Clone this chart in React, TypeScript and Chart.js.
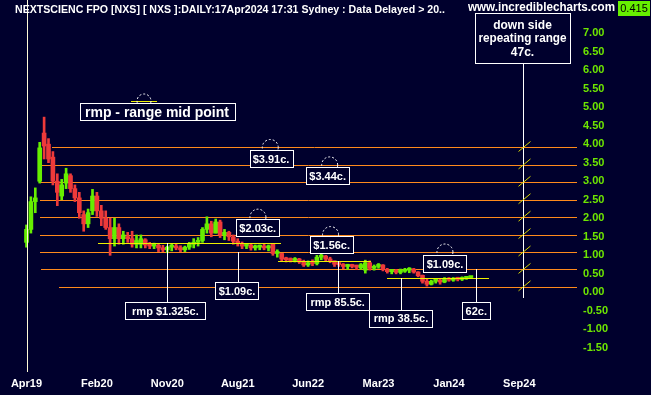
import React, { useEffect, useRef } from 'react';
import { Chart, registerables } from 'chart.js';

Chart.register(...registerables);

// ---------- data ----------
const X_LABELS = ['Apr19', 'Feb20', 'Nov20', 'Aug21', 'Jun22', 'Mar23', 'Jan24', 'Sep24'];
const X_LABEL_STEP = 16; // bars between axis labels
const Y_TICKS = [-1.5, -1, -0.5, 0, 0.5, 1, 1.5, 2, 2.5, 3, 3.5, 4, 4.5, 5, 5.5, 6, 6.5, 7];

const OPEN = [
  1.35, 1.70, 2.45, 3.00, 4.30, 4.00, 3.65, 3.00, 2.60, 2.95, 3.15, 2.80, 2.55, 2.10, 1.85, 2.20, 2.60, 2.20, 2.00, 1.75,
  1.45, 1.75, 1.45, 1.50, 1.45, 1.30, 1.30, 1.42, 1.28, 1.25, 1.27, 1.20, 1.15, 1.22, 1.25, 1.20, 1.15, 1.22, 1.30, 1.35,
  1.40, 1.70, 1.85, 1.60, 1.90, 1.55, 1.62, 1.50, 1.38, 1.32, 1.25, 1.28, 1.20, 1.22, 1.25, 1.20, 1.30, 1.05, 1.05, 0.90,
  0.88, 0.86, 0.90, 0.82, 0.74, 0.80, 0.78, 0.95, 0.98, 0.90, 0.85, 0.76, 0.75, 0.70, 0.72, 0.70, 0.66, 0.60, 0.80, 0.65,
  0.70, 0.74, 0.62, 0.56, 0.58, 0.54, 0.57, 0.60, 0.63, 0.55, 0.46, 0.30, 0.22, 0.30, 0.32, 0.28, 0.36, 0.33, 0.37, 0.35,
  0.38, 0.40,
];
const HIGH = [
  1.82, 2.58, 2.82, 4.05, 4.73, 4.15, 3.80, 3.20, 3.05, 3.35, 3.20, 2.90, 2.70, 2.20, 2.25, 2.78, 2.70, 2.35, 2.20, 2.00,
  2.00, 1.85, 1.65, 1.62, 1.65, 1.55, 1.55, 1.45, 1.35, 1.33, 1.30, 1.27, 1.25, 1.30, 1.30, 1.26, 1.25, 1.35, 1.45, 1.48,
  1.75, 2.04, 1.92, 1.98, 1.95, 1.70, 1.65, 1.55, 1.45, 1.36, 1.32, 1.32, 1.28, 1.28, 1.30, 1.28, 1.32, 1.15, 1.05, 0.95,
  0.93, 0.94, 0.92, 0.87, 0.85, 0.88, 1.00, 1.07, 1.00, 0.95, 0.85, 0.80, 0.78, 0.76, 0.76, 0.74, 0.78, 0.87, 0.85, 0.74,
  0.78, 0.75, 0.65, 0.62, 0.62, 0.63, 0.65, 0.67, 0.65, 0.56, 0.47, 0.36, 0.33, 0.38, 0.38, 0.40, 0.40, 0.40, 0.41, 0.42,
  0.43, 0.43,
];
const LOW = [
  1.22, 1.60, 2.15, 2.95, 3.60, 3.50, 2.90, 2.34, 2.50, 2.80, 2.70, 2.45, 2.00, 1.65, 1.75, 2.10, 2.05, 1.80, 1.70, 1.00,
  1.25, 1.30, 1.30, 1.35, 1.22, 1.20, 1.20, 1.20, 1.18, 1.18, 1.10, 1.10, 1.07, 1.12, 1.15, 1.10, 1.10, 1.16, 1.20, 1.25,
  1.35, 1.60, 1.50, 1.60, 1.48, 1.42, 1.40, 1.30, 1.25, 1.18, 1.18, 1.14, 1.14, 1.15, 1.15, 1.12, 1.00, 0.95, 0.85, 0.82,
  0.82, 0.82, 0.78, 0.70, 0.70, 0.72, 0.74, 0.88, 0.85, 0.80, 0.70, 0.70, 0.64, 0.62, 0.66, 0.62, 0.62, 0.52, 0.60, 0.60,
  0.65, 0.58, 0.52, 0.50, 0.50, 0.50, 0.54, 0.53, 0.52, 0.42, 0.25, 0.17, 0.20, 0.25, 0.22, 0.26, 0.30, 0.30, 0.31, 0.32,
  0.35, 0.38,
];
const CLOSE = [
  1.70, 2.45, 2.55, 3.90, 3.95, 3.60, 3.00, 2.70, 2.90, 3.20, 2.80, 2.55, 2.15, 1.85, 2.15, 2.60, 2.20, 2.00, 1.75, 1.45,
  1.75, 1.45, 1.55, 1.45, 1.30, 1.40, 1.45, 1.28, 1.25, 1.27, 1.20, 1.15, 1.22, 1.25, 1.20, 1.15, 1.22, 1.30, 1.35, 1.40,
  1.70, 1.85, 1.60, 1.90, 1.55, 1.62, 1.50, 1.38, 1.32, 1.25, 1.28, 1.20, 1.22, 1.25, 1.20, 1.25, 1.05, 1.10, 0.90, 0.88,
  0.86, 0.90, 0.82, 0.74, 0.80, 0.78, 0.95, 0.98, 0.90, 0.85, 0.76, 0.75, 0.70, 0.72, 0.70, 0.68, 0.75, 0.80, 0.65, 0.70,
  0.75, 0.62, 0.56, 0.58, 0.54, 0.60, 0.62, 0.63, 0.55, 0.45, 0.30, 0.22, 0.30, 0.32, 0.28, 0.36, 0.33, 0.37, 0.35, 0.38,
  0.40, 0.415,
];

const LEVELS = [3.91, 3.44, 2.97, 2.5, 2.03, 1.56, 1.09, 0.62, 0.15];
const RMP = [1.325, 0.855, 0.385];
const RANGE_STEP = 0.47;
const LAST_PRICE = 0.415;

// ---------- view / annotation layout (data units) ----------
const X_MIN = -6.023;
const X_MAX = 125.34;
const Y_MIN = -2.148;
const Y_MAX = 7.89;

const LEVEL_FROM = [5.8, 3.07, 3.07, 3.07, 3.07, 3.07, 3.07, 3.3, 7.39];
const LEVEL_TO = 125.1;
const RMP_FROM = [16.3, 57.2, 81.9];
const RMP_TO = [57.8, 78.3, 105.1];
const RANGE_X = 112.9;
const RANGE_BOTTOM = -0.14;
const ARCS = [
  { x: 55.4, lv: 0 },
  { x: 68.9, lv: 1 },
  { x: 52.6, lv: 4 },
  { x: 69.1, lv: 5 },
  { x: 95.1, lv: 6 },
];

const money = (v: number) => '$' + v.toFixed(2) + 'c.';
const cents = (v: number, d: number) => (v * 100).toFixed(d) + 'c.';

const BOXES: any[] = [
  { text: money(LEVELS[0]), x: 55.57, y: 3.608, w: 43, h: 17 },
  { text: money(LEVELS[1]), x: 68.45, y: 3.149, w: 43, h: 17 },
  { text: money(LEVELS[4]), x: 52.55, y: 1.738, w: 43, h: 17 },
  { text: money(LEVELS[5]), x: 69.36, y: 1.287, w: 43, h: 17 },
  { text: money(LEVELS[6]), x: 95.11, y: 0.769, w: 43, h: 17 },
  { text: money(LEVELS[6]), x: 47.84, y: 0.046, w: 43, h: 17, from: LEVELS[6], lx: 48.0 },
  { text: 'rmp $' + RMP[0] + 'c.', x: 31.57, y: -0.497, w: 80, h: 17, from: RMP[0], lx: 31.9 },
  { text: 'rmp ' + cents(RMP[1], 1), x: 70.73, y: -0.259, w: 63, h: 17, from: RMP[1], lx: 70.8 },
  { text: 'rmp ' + cents(RMP[2], 1), x: 85.11, y: -0.691, w: 63, h: 17, from: RMP[2], lx: 85.1 },
  { text: cents(LEVELS[7], 0), x: 102.23, y: -0.488, w: 28, h: 17, from: LEVELS[7], lx: 102.2 },
];

const BG = '#00002d';
const ORANGE = '#ff8a1c';
const YELLOW = '#eef000';
const GREEN = '#66ee00';
const RED = '#ee3a3a';
const TICK_GREEN = '#6ee600';
const FONT = '"Liberation Sans", Arial, Helvetica, sans-serif';

const up = (i: number) => CLOSE[i] >= OPEN[i];

const overlay = {
  id: 'overlay',
  beforeDraw(chart: any) {
    const ctx = chart.ctx;
    ctx.save();
    ctx.fillStyle = BG;
    ctx.fillRect(0, 0, chart.width, chart.height);
    ctx.restore();
  },
  beforeDatasetsDraw(chart: any) {
    const { ctx, scales } = chart;
    const x = scales.x, y = scales.y;
    ctx.save();
    ctx.strokeStyle = ORANGE;
    ctx.lineWidth = 1;
    LEVELS.forEach((v, i) => {
      const py = Math.round(y.getPixelForValue(v)) + 0.5;
      ctx.beginPath();
      ctx.moveTo(Math.round(x.getPixelForValue(LEVEL_FROM[i])), py);
      ctx.lineTo(Math.round(x.getPixelForValue(LEVEL_TO)), py);
      ctx.stroke();
    });
    ctx.restore();
  },
  afterDatasetsDraw(chart: any) {
    const { ctx, scales } = chart;
    const x = scales.x, y = scales.y;
    const X = (v: number) => x.getPixelForValue(v);
    const Y = (v: number) => y.getPixelForValue(v);
    const h = (v: number) => Math.round(v) + 0.5;
    ctx.save();
    ctx.lineWidth = 1;

    // rmp lines
    ctx.strokeStyle = YELLOW;
    RMP.forEach((v, i) => {
      ctx.beginPath();
      ctx.moveTo(Math.round(X(RMP_FROM[i])), h(Y(v)));
      ctx.lineTo(Math.round(X(RMP_TO[i])), h(Y(v)));
      ctx.stroke();
    });

    // connectors
    ctx.strokeStyle = '#ffffff';
    BOXES.forEach((b) => {
      if (b.from === undefined) return;
      const top = Math.round(Y(b.y) - b.h / 2);
      ctx.beginPath();
      ctx.moveTo(h(X(b.lx)), Math.round(Y(b.from)));
      ctx.lineTo(h(X(b.lx)), top);
      ctx.stroke();
    });

    // down side repeating range vertical
    const rx = h(X(RANGE_X));
    const rangeBox = { x: 112.73, y: 6.865, w: 95, h: 50 };
    ctx.beginPath();
    ctx.moveTo(rx, Math.round(Y(rangeBox.y) + rangeBox.h / 2));
    ctx.lineTo(rx, Math.round(Y(RANGE_BOTTOM)));
    ctx.stroke();
    ctx.strokeStyle = '#d8d800';
    LEVELS.forEach((v) => {
      const py = Y(v);
      ctx.beginPath();
      ctx.moveTo(rx - 5, py + 4);
      ctx.lineTo(rx + 7, py - 6);
      ctx.stroke();
    });

    // dashed arcs
    ctx.strokeStyle = '#ffffff';
    ctx.setLineDash([2, 2]);
    ARCS.forEach((a) => {
      ctx.beginPath();
      ctx.arc(X(a.x), Y(LEVELS[a.lv]), 8, 0, Math.PI * 2);
      ctx.stroke();
    });
    ctx.setLineDash([]);

    // boxes
    ctx.textAlign = 'center';
    ctx.textBaseline = 'middle';
    const drawBox = (cx: number, cy: number, w: number, hh: number) => {
      const l = Math.round(cx - w / 2) + 0.5;
      const t = Math.round(cy - hh / 2) + 0.5;
      ctx.fillStyle = BG;
      ctx.fillRect(l, t, w, hh);
      ctx.strokeStyle = '#ffffff';
      ctx.strokeRect(l, t, w, hh);
    };
    BOXES.forEach((b) => {
      const cx = X(b.x), cy = Y(b.y);
      drawBox(cx, cy, b.w, b.h);
      ctx.fillStyle = '#ffffff';
      ctx.font = 'bold 11px ' + FONT;
      ctx.fillText(b.text, cx, cy + 1, b.w - 6);
    });

    // range box
    {
      const cx = X(rangeBox.x), cy = Y(rangeBox.y);
      drawBox(cx, cy, rangeBox.w, rangeBox.h);
      ctx.fillStyle = '#ffffff';
      ctx.font = 'bold 12px ' + FONT;
      ctx.fillText('down side', cx, cy - 12.5);
      ctx.fillText('repeating range', cx, cy + 1, 88);
      ctx.fillText(cents(RANGE_STEP, 0), cx, cy + 14.5);
    }

    // start marker line
    ctx.strokeStyle = '#fffbd6';
    ctx.beginPath();
    ctx.moveTo(h(X(0.15)), 0);
    ctx.lineTo(h(X(0.15)), chart.chartArea.bottom);
    ctx.stroke();

    // legend
    ctx.strokeStyle = YELLOW;
    ctx.beginPath();
    ctx.moveTo(131, 101.5);
    ctx.lineTo(157, 101.5);
    ctx.stroke();
    ctx.strokeStyle = '#ffffff';
    ctx.setLineDash([2, 2]);
    ctx.beginPath();
    ctx.arc(144, 101, 7, 0, Math.PI * 2);
    ctx.stroke();
    ctx.setLineDash([]);
    ctx.fillStyle = BG;
    ctx.fillRect(80.5, 103.5, 155, 17);
    ctx.strokeStyle = '#ffffff';
    ctx.strokeRect(80.5, 103.5, 155, 17);
    ctx.fillStyle = '#ffffff';
    ctx.font = 'bold 14px ' + FONT;
    ctx.textAlign = 'left';
    ctx.fillText('rmp - range mid point', 85, 113, 146);

    // header
    ctx.font = 'bold 11px ' + FONT;
    ctx.textAlign = 'left';
    ctx.fillStyle = '#ffffff';
    ctx.fillText('NEXTSCIENC FPO [NXS] [ NXS ]:DAILY:17Apr2024 17:31 Sydney : Data Delayed > 20..', 15, 9.5, 430);
    ctx.font = 'bold 12px ' + FONT;
    ctx.fillText('www.incrediblecharts.com', 468, 7.5, 147);
    ctx.fillStyle = '#66f000';
    ctx.fillRect(618, 1, 32, 15);
    ctx.fillStyle = '#000000';
    ctx.font = '11px ' + FONT;
    ctx.textAlign = 'center';
    ctx.fillText(LAST_PRICE.toFixed(3), 634, 9);

    ctx.restore();
  },
};

export default function App() {
  const ref = useRef<HTMLCanvasElement | null>(null);
  useEffect(() => {
    if (!ref.current) return;
    const idx = OPEN.map((_, i) => i);
    const chart = new Chart(ref.current, {
      type: 'bar',
      data: {
        datasets: [
          {
            data: idx.map((i) => ({ x: i, y: [LOW[i], HIGH[i]] })) as any,
            backgroundColor: idx.map((i) => (up(i) ? GREEN : RED)),
            barThickness: 2,
            grouped: false,
            order: 2,
          } as any,
          {
            data: idx.map((i) => ({ x: i, y: [Math.min(OPEN[i], CLOSE[i]), Math.max(OPEN[i], CLOSE[i])] })) as any,
            backgroundColor: idx.map((i) => (up(i) ? GREEN : RED)),
            barThickness: 4,
            minBarLength: 2,
            grouped: false,
            order: 1,
          } as any,
        ],
      },
      options: {
        animation: false,
        responsive: false,
        devicePixelRatio: 1,
        layout: { padding: 0 },
        plugins: { legend: { display: false }, tooltip: { enabled: false }, title: { display: false } },
        scales: {
          x: {
            type: 'linear',
            min: X_MIN,
            max: X_MAX,
            offset: false,
            grid: { display: false, drawTicks: false },
            border: { display: false },
            afterBuildTicks: (s: any) => {
              s.ticks = X_LABELS.map((_, i) => ({ value: i * X_LABEL_STEP }));
            },
            afterFit: (s: any) => {
              s.height = 23;
              s.paddingLeft = 0;
              s.paddingRight = 0;
              s.paddingTop = 0;
              s.paddingBottom = 0;
            },
            ticks: {
              autoSkip: false,
              maxRotation: 0,
              padding: 5,
              color: '#ffffff',
              font: { family: FONT, size: 11, weight: 'bold' },
              callback: (v: any) => X_LABELS[Math.round(Number(v) / X_LABEL_STEP)] ?? '',
            },
          },
          y: {
            type: 'linear',
            position: 'right',
            min: Y_MIN,
            max: Y_MAX,
            grid: { display: false, drawTicks: false },
            border: { display: false },
            afterBuildTicks: (s: any) => {
              s.ticks = Y_TICKS.map((v) => ({ value: v }));
            },
            afterFit: (s: any) => {
              s.width = 73;
              s.paddingTop = 0;
              s.paddingBottom = 0;
              s.paddingLeft = 0;
              s.paddingRight = 0;
            },
            ticks: {
              autoSkip: false,
              padding: 5,
              color: TICK_GREEN,
              font: { family: FONT, size: 11, weight: 'bold' },
              callback: (v: any) => Number(v).toFixed(2),
            },
          },
        },
      } as any,
      plugins: [overlay],
    });
    return () => chart.destroy();
  }, []);
  return (
    <div style={{ position: 'fixed', left: 0, top: 0, width: 651, height: 395, background: BG }}>
      <canvas ref={ref} width={651} height={395} style={{ display: 'block', width: 651, height: 395 }} />
    </div>
  );
}
